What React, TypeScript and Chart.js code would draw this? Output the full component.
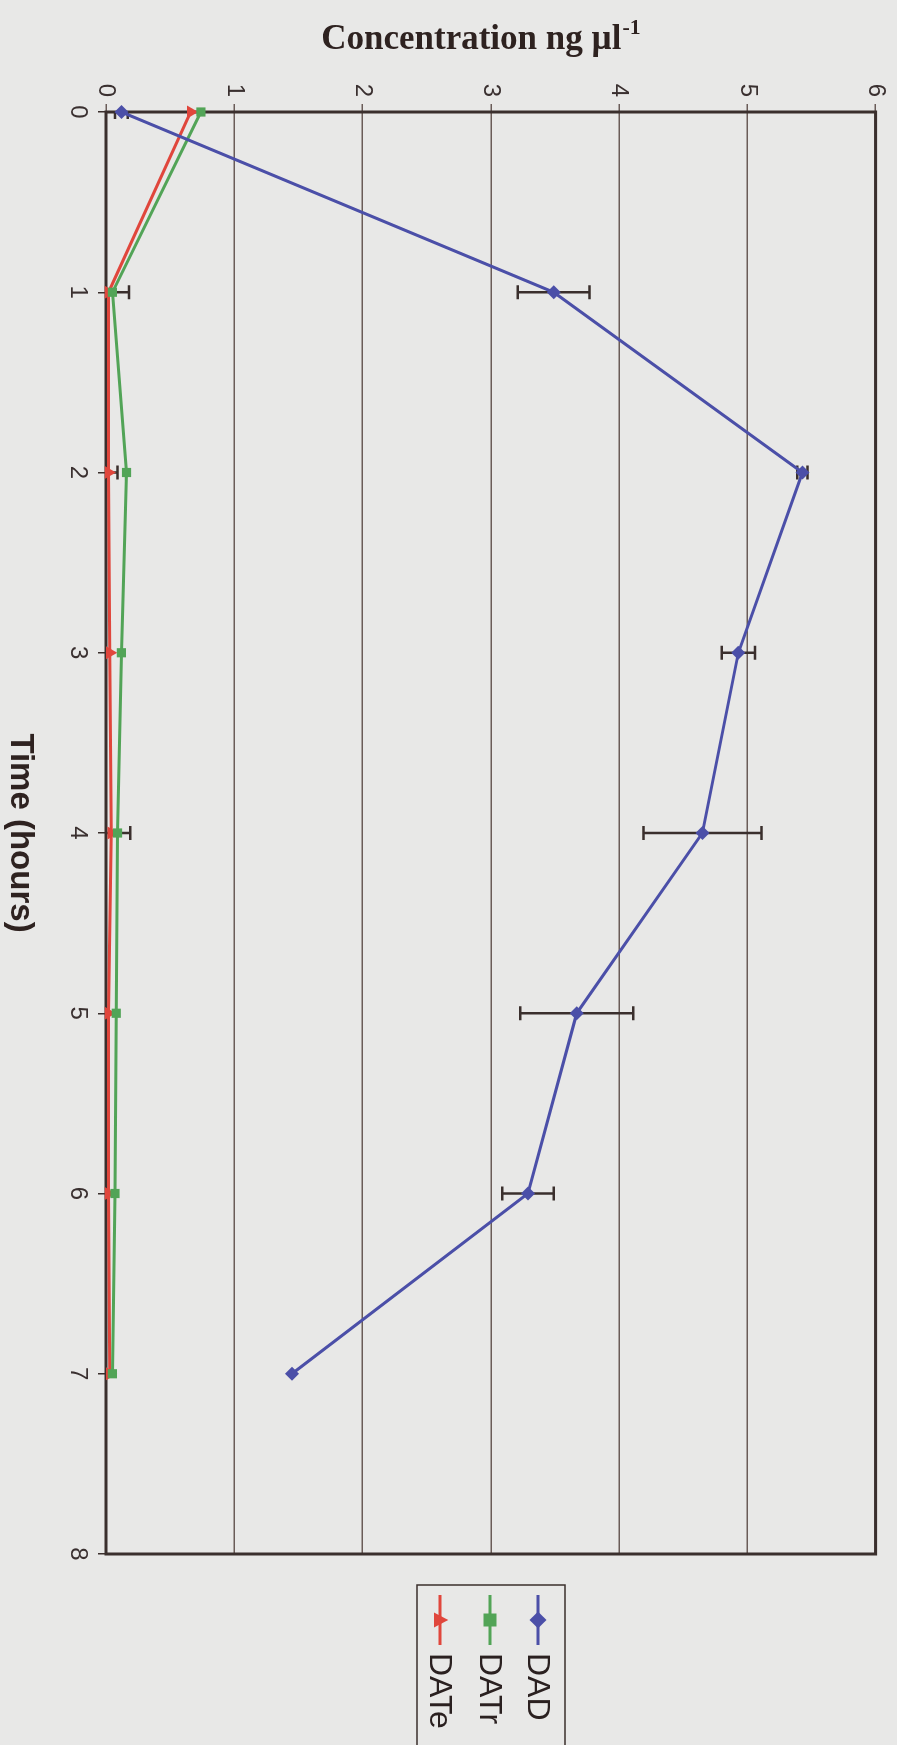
import React, { useEffect, useRef } from "react";
import { Chart, registerables } from "chart.js";
Chart.register(...registerables);

// ---- data ----
const hours = [0, 1, 2, 3, 4, 5, 6, 7];
const timeTicks = [0, 1, 2, 3, 4, 5, 6, 7, 8];
const concTicks = [0, 1, 2, 3, 4, 5, 6];
const dadValues = [0.12, 3.49, 5.43, 4.93, 4.65, 3.67, 3.29, 1.45];
const dadErrors = [0.05, 0.28, 0.04, 0.13, 0.46, 0.44, 0.2, 0];
const datrValues = [0.74, 0.05, 0.16, 0.12, 0.09, 0.08, 0.07, 0.05];
const datrErrors = [0, 0, 0, 0, 0.1, 0, 0, 0];
const dateValues = [0.66, 0.02, 0.02, 0.03, 0.04, 0.02, 0.02, 0.03];
const dateErrors = [0, 0.16, 0.07, 0, 0, 0, 0, 0];
const seriesNames = ["DAD", "DATr", "DATe"];
const xTitle = "Time (hours)";
const yTitleMain = "Concentration ng \u00b5l";
const yTitleSup = "-1";

const W = 1745; // unrotated width (page height)
const H = 897; // unrotated height (page width)
const BG = "#e8e8e7";
const DARK = "#3a2f2d";
const BLUE = "#4b4fa8";
const GREEN = "#52a457";
const RED = "#e0463c";

const seriesColors = [BLUE, GREEN, RED];
const seriesStyles = ["rectRot", "rect", "triangle"];
const seriesRadius = [7, 6.5, 7.5];

function drawMarker(ctx: CanvasRenderingContext2D, style: string, x: number, y: number, r: number, color: string) {
  ctx.save();
  ctx.fillStyle = color;
  ctx.beginPath();
  if (style === "rectRot") {
    ctx.moveTo(x, y - r * 1.2);
    ctx.lineTo(x + r * 1.2, y);
    ctx.lineTo(x, y + r * 1.2);
    ctx.lineTo(x - r * 1.2, y);
  } else if (style === "rect") {
    ctx.rect(x - r, y - r, 2 * r, 2 * r);
  } else {
    ctx.moveTo(x, y - r * 1.1);
    ctx.lineTo(x + r, y + r * 0.8);
    ctx.lineTo(x - r, y + r * 0.8);
  }
  ctx.closePath();
  ctx.fill();
  ctx.restore();
}

const errorBarPlugin = {
  id: "errorBars",
  beforeDatasetsDraw(chart: any) {
    const ctx = chart.ctx as CanvasRenderingContext2D;
    const xs = chart.scales.x;
    const ys = chart.scales.y;
    const a = chart.chartArea;
    ctx.save();
    // frame
    ctx.strokeStyle = DARK;
    ctx.lineWidth = 3;
    ctx.strokeRect(a.left, a.top, a.right - a.left, a.bottom - a.top);
    ctx.beginPath();
    ctx.rect(a.left, a.top - 5, a.right - a.left, a.bottom - a.top + 5);
    ctx.clip();
    ctx.strokeStyle = DARK;
    ctx.lineWidth = 2.5;
    chart.data.datasets.forEach((ds: any) => {
      const errs: number[] = ds.errors;
      ds.data.forEach((p: any, i: number) => {
        const e = errs[i];
        if (!e) return;
        const x = xs.getPixelForValue(p.x);
        const y1 = ys.getPixelForValue(p.y + e);
        const y2 = ys.getPixelForValue(p.y - e);
        ctx.beginPath();
        ctx.moveTo(x, y1);
        ctx.lineTo(x, y2);
        ctx.moveTo(x - 7, y1);
        ctx.lineTo(x + 7, y1);
        ctx.moveTo(x - 7, y2);
        ctx.lineTo(x + 7, y2);
        ctx.stroke();
      });
    });
    ctx.restore();
  },
  afterDraw(chart: any) {
    const ctx = chart.ctx as CanvasRenderingContext2D;
    const a = chart.chartArea;
    ctx.save();
    // y title (rotated)
    ctx.fillStyle = "#2e2220";
    ctx.textBaseline = "middle";
    ctx.textAlign = "left";
    const mainFont = "bold 35px 'Liberation Serif', 'Times New Roman', serif";
    const supFont = "bold 22px 'Liberation Serif', 'Times New Roman', serif";
    ctx.font = mainFont;
    const w1 = ctx.measureText(yTitleMain).width;
    ctx.font = supFont;
    const w2 = ctx.measureText(yTitleSup).width;
    const total = w1 + w2 + 1;
    ctx.translate(40, 416);
    ctx.rotate(-Math.PI / 2);
    ctx.font = mainFont;
    ctx.fillText(yTitleMain, -total / 2, 0);
    ctx.font = supFont;
    ctx.fillText(yTitleSup, -total / 2 + w1 + 1, -12);
    ctx.restore();

    // x title
    ctx.save();
    ctx.fillStyle = "#2e2220";
    ctx.font = "bold 33px 'Liberation Sans', Arial, sans-serif";
    ctx.textAlign = "center";
    ctx.textBaseline = "middle";
    ctx.fillText(xTitle, (a.left + a.right) / 2, 877);
    ctx.restore();

    // legend
    ctx.save();
    ctx.strokeStyle = DARK;
    ctx.lineWidth = 1.5;
    ctx.strokeRect(1585, 332, 300, 148);
    const rows = [359, 407, 457];
    ctx.font = "32px 'Liberation Sans', Arial, sans-serif";
    ctx.textBaseline = "middle";
    ctx.textAlign = "left";
    seriesNames.forEach((name, i) => {
      const y = rows[i];
      ctx.strokeStyle = seriesColors[i];
      ctx.lineWidth = 3;
      ctx.beginPath();
      ctx.moveTo(1595, y);
      ctx.lineTo(1645, y);
      ctx.stroke();
      drawMarker(ctx, seriesStyles[i], 1620, y, seriesRadius[i], seriesColors[i]);
      ctx.fillStyle = "#2a2020";
      ctx.fillText(name, 1653, y + 1);
    });
    ctx.restore();
  },
};

const seriesValues = [dadValues, datrValues, dateValues];
const seriesErrors = [dadErrors, datrErrors, dateErrors];

export default function App() {
  const ref = useRef<HTMLCanvasElement | null>(null);
  useEffect(() => {
    if (!ref.current) return;
    const chart = new Chart(ref.current, {
      type: "line",
      data: {
        datasets: seriesNames.map((name, i) => ({
          label: name,
          data: hours.map((h, j) => ({ x: h, y: seriesValues[i][j] })),
          errors: seriesErrors[i],
          borderColor: seriesColors[i],
          backgroundColor: seriesColors[i],
          borderWidth: 3,
          pointStyle: seriesStyles[i] as any,
          pointRadius: seriesRadius[i],
          pointBorderWidth: 0,
          tension: 0,
          clip: false as any,
        })) as any,
      },
      options: {
        animation: false,
        responsive: false,
        devicePixelRatio: 1,
        layout: { padding: { top: 16, right: W - 1554, left: 0, bottom: 0 } },
        plugins: { legend: { display: false }, tooltip: { enabled: false } },
        scales: {
          x: {
            type: "linear",
            min: 0,
            max: 8,
            afterBuildTicks: (s: any) => {
              s.ticks = timeTicks.map((v) => ({ value: v }));
            },
            afterFit: (s: any) => {
              s.height = 106;
            },
            ticks: {
              font: { family: "'Liberation Sans', Arial, sans-serif", size: 24 },
              color: "#3a3030",
              padding: 6,
              maxRotation: 0,
            },
            grid: { drawOnChartArea: false, tickLength: 8, color: DARK, lineWidth: 1.5 },
            border: { display: false },
          },
          y: {
            type: "linear",
            min: 0,
            max: 6,
            afterBuildTicks: (s: any) => {
              s.ticks = concTicks.map((v) => ({ value: v }));
            },
            afterFit: (s: any) => {
              s.width = 112;
            },
            ticks: {
              font: { family: "'Liberation Sans', Arial, sans-serif", size: 24 },
              color: "#3a3030",
              padding: 7,
            },
            grid: { tickLength: 8, color: "#6a5c58", lineWidth: 1.5 },
            border: { display: false },
          },
        },
      },
      plugins: [errorBarPlugin],
    } as any);
    return () => chart.destroy();
  }, []);
  return (
    <div style={{ position: "absolute", left: 0, top: 0, width: 897, height: 1745, overflow: "hidden", background: BG }}>
      <div
        style={{
          position: "absolute",
          left: 0,
          top: 0,
          width: W,
          height: H,
          transformOrigin: "0 0",
          transform: "translate(897px, 0px) rotate(90deg)",
        }}
      >
        <canvas ref={ref} width={W} height={H} style={{ display: "block", width: W, height: H }} />
      </div>
    </div>
  );
}
